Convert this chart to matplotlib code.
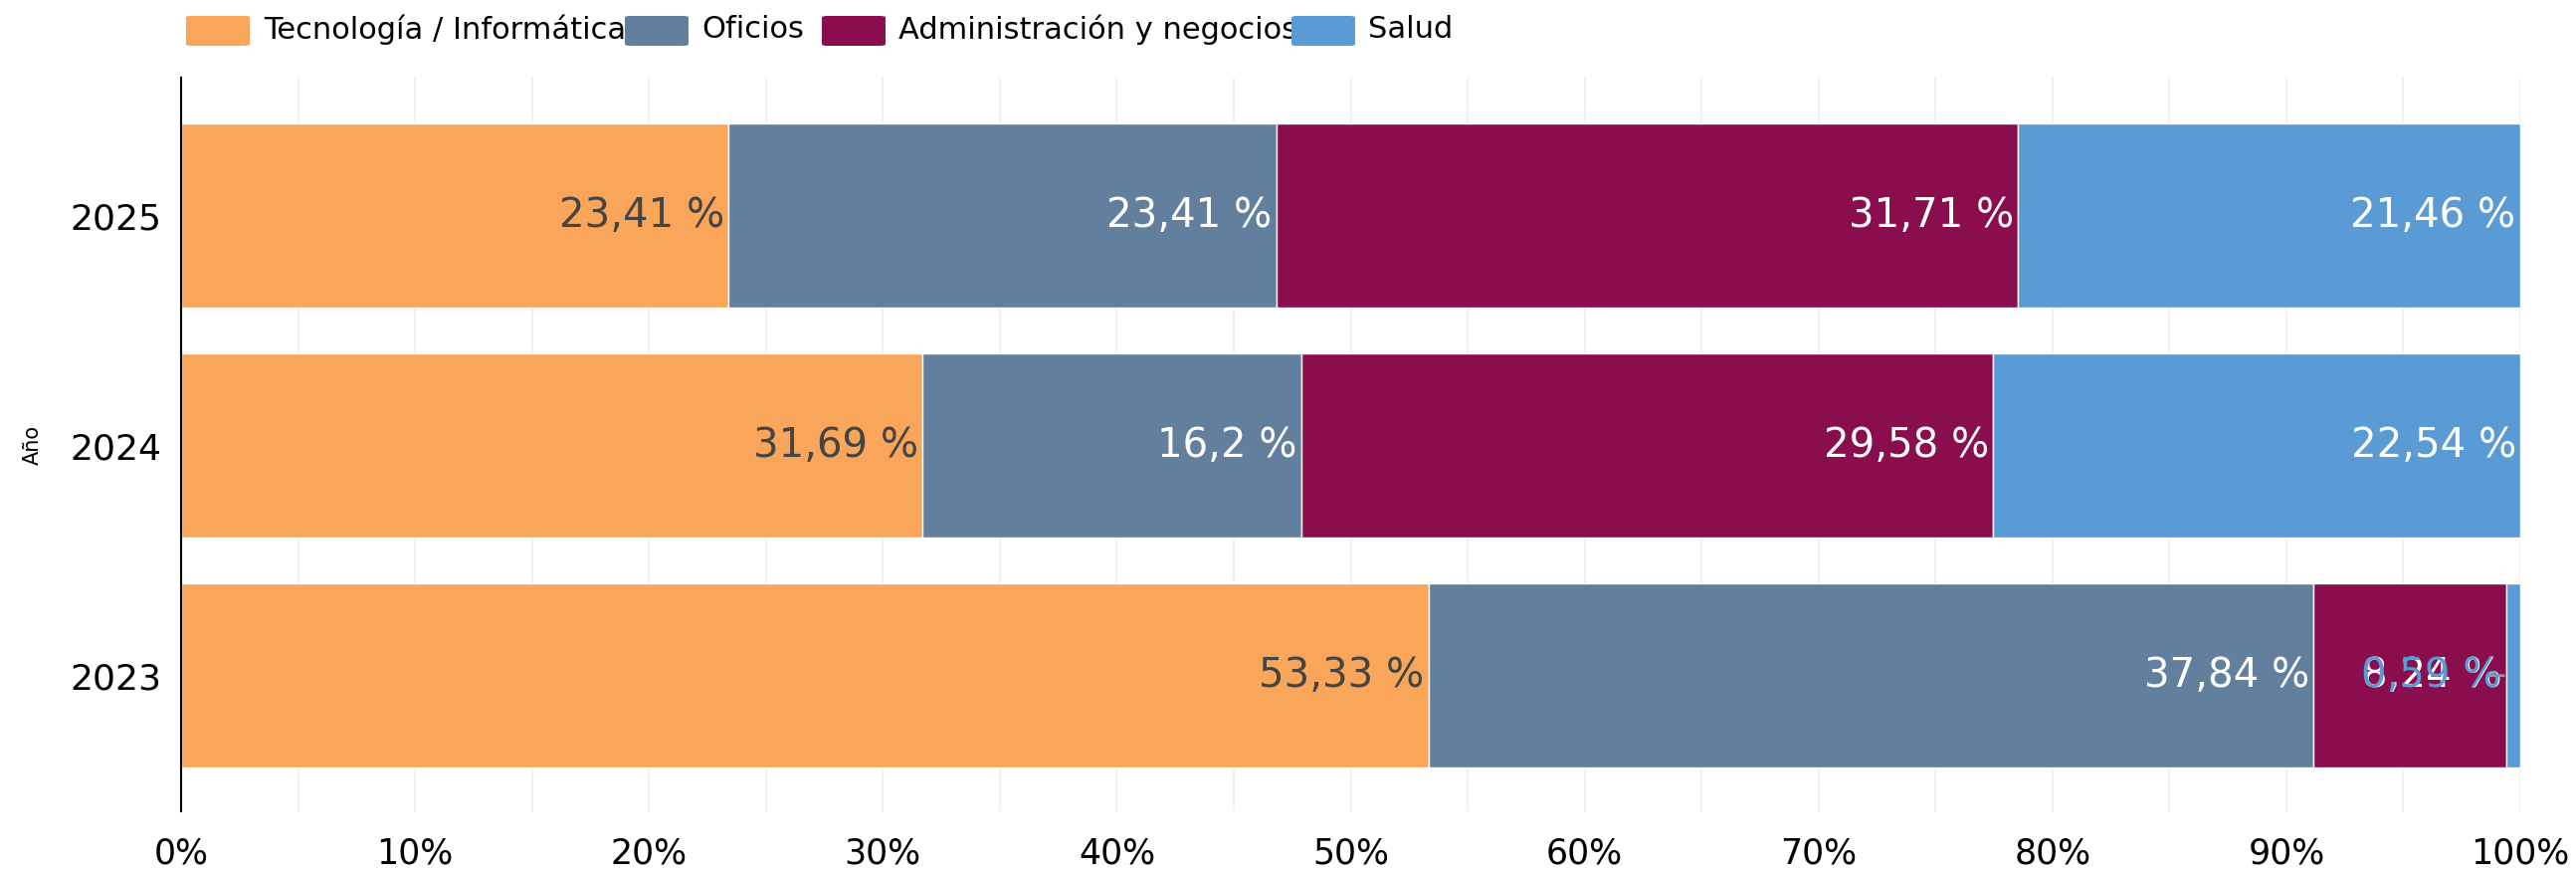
import matplotlib
matplotlib.use("Agg")
import matplotlib.pyplot as plt
from matplotlib.patches import FancyBboxPatch
import numpy as np

plt.rcParams['font.family'] = ['DejaVu Sans']

years = ["2023", "2024", "2025"]
categories = ["Tecnología / Informática", "Oficios", "Administración y negocios", "Salud"]
tecnologia = [53.33, 31.69, 23.41]
oficios = [37.84, 16.2, 23.41]
administracion = [8.24, 29.58, 31.71]
salud = [0.59, 22.54, 21.46]
series = [tecnologia, oficios, administracion, salud]
colors = ["#F9A65A", "#627F9D", "#8A0E4D", "#5B9BD5"]
label_colors = ["#444444", "white", "white", "white"]
xticks = [0, 10, 20, 30, 40, 50, 60, 70, 80, 90, 100]

W, H = 2589, 876
fig = plt.figure(figsize=(W / 100, H / 100), dpi=100)
ax = fig.add_axes([182 / W, 1 - 815 / H, (2533 - 182) / W, (815 - 78) / H])

y = np.arange(len(years))
left = np.zeros(len(years))
for vals, col, lc in zip(series, colors, label_colors):
    vals = np.array(vals)
    ax.barh(y, vals, left=left, height=0.8, color=col, edgecolor="white", linewidth=1, zorder=2)
    for i, v in enumerate(vals):
        end = left[i] + v
        txt = f"{v:g}".replace(".", ",") + " %"
        if v < 3:
            ax.annotate(txt, xy=(end, y[i]), xytext=(-14, 0), textcoords="offset points",
                        ha="right", va="center", fontsize=29, color=col, zorder=4)
            ax.annotate("", xy=(end - v, y[i]), xytext=(-15, 0), textcoords="offset points",
                        arrowprops=dict(arrowstyle="-", color="#999999", lw=2), zorder=3)
        else:
            ax.annotate(txt, xy=(end, y[i]), xytext=(-3, 0), textcoords="offset points",
                        ha="right", va="center", fontsize=29, color=lc, zorder=3)
    left = left + vals

ax.set_xlim(0, 100)
ax.set_ylim(-0.59, 2.60)
ax.set_yticks(y)
ax.set_yticklabels(years, fontsize=26)
ax.set_xticks(xticks)
ax.set_xticklabels([f"{t}%" for t in xticks], fontsize=25)
ax.set_xticks(np.arange(5, 100, 10), minor=True)
ax.grid(axis="x", which="both", color="#f0f0f0", linewidth=1.5, zorder=0)
ax.set_axisbelow(True)
ax.tick_params(axis="both", which="both", length=0)
ax.tick_params(axis="x", pad=18)
ax.tick_params(axis="y", pad=14)
for s in ["top", "right", "bottom"]:
    ax.spines[s].set_visible(False)
ax.spines["left"].set_color("black")
ax.spines["left"].set_linewidth(1.5)
ax.set_ylabel("Año", fontsize=15, labelpad=20)

# legend (manual, with overlap like reference)
patch_x = [187, 628, 826, 1298]
text_x = [265, 705, 903, 1375]
for tx, name in zip(text_x, categories):
    fig.text(tx / W, 1 - 30 / H, name, fontsize=22, ha="left", va="center", color="black")
for px, col in zip(patch_x, colors):
    p = FancyBboxPatch((px / W, 1 - 46 / H), 64 / W, 30 / H,
                       boxstyle="round,pad=0,rounding_size=0.002",
                       transform=fig.transFigure, facecolor=col, edgecolor="none", zorder=5)
    fig.patches.append(p)

fig.savefig("out.png", dpi=100)
